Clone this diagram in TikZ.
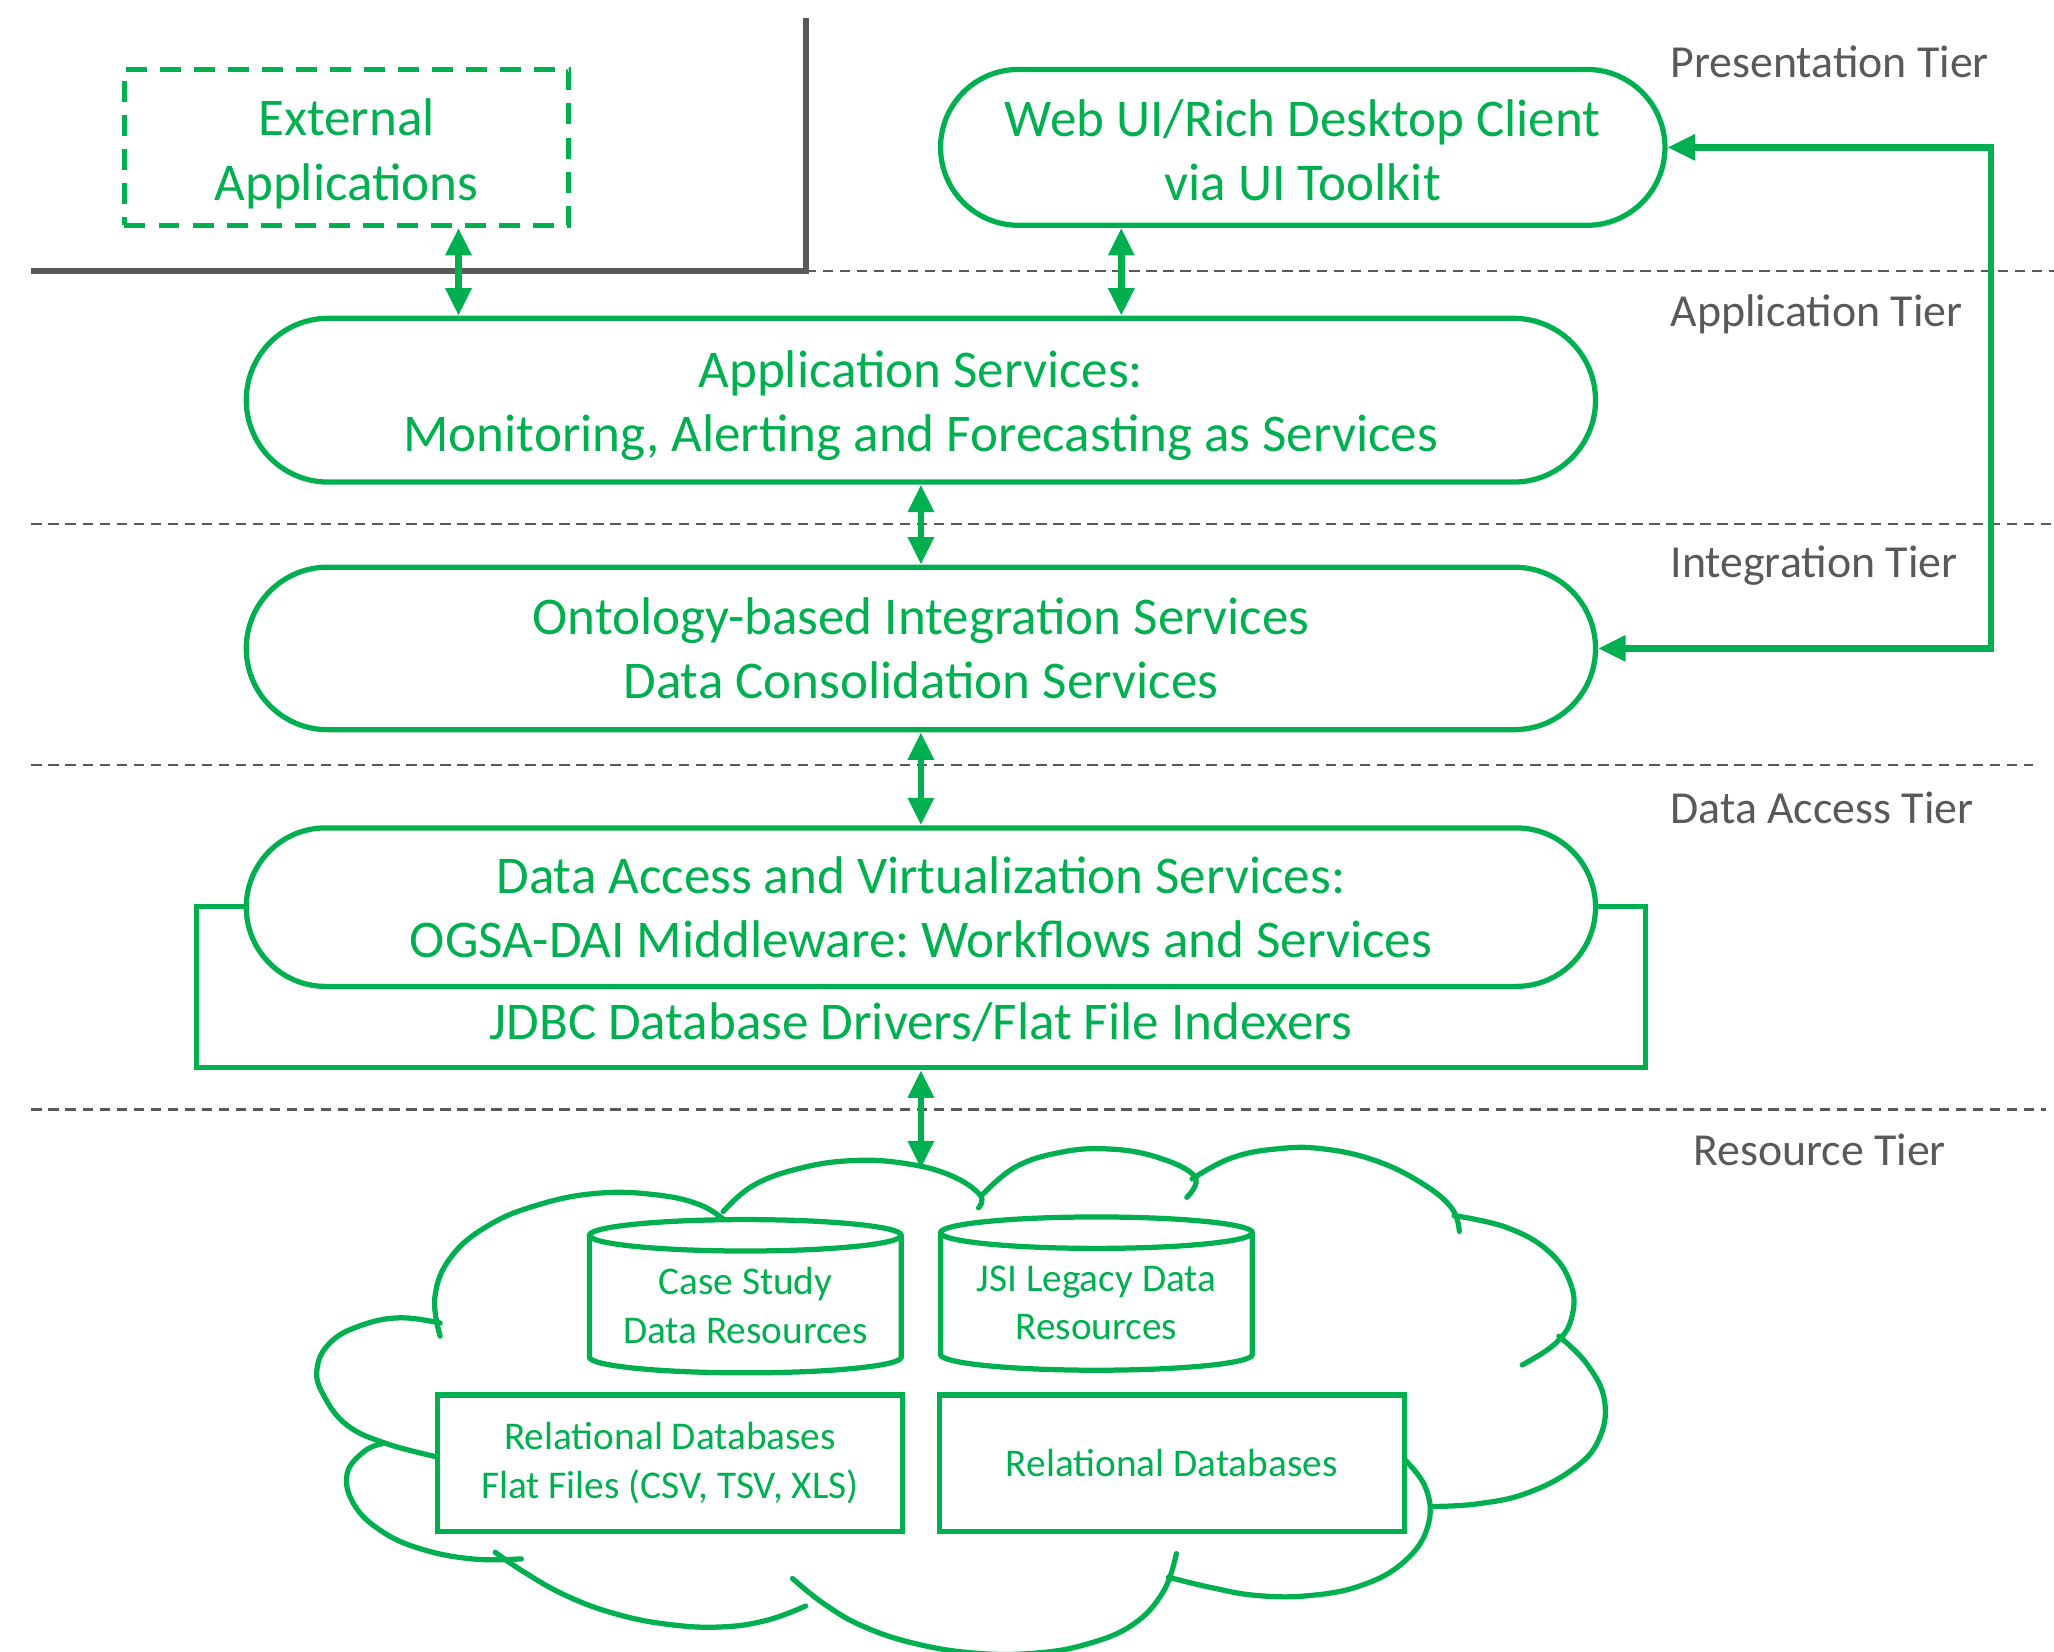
\documentclass[tikz,border=0pt]{standalone}
\usepackage{fontspec}
\setmainfont{Carlito}
\usetikzlibrary{arrows.meta,shapes.misc}
\definecolor{og}{HTML}{00B050}
\definecolor{dg}{HTML}{595959}
\frenchspacing
\newcommand\lowerby[1]{\rule{0pt}{#1}}
\begin{document}
\begin{tikzpicture}[x=1pt,y=-1pt,
  mainfont/.style={font=\fontsize{40.5}{49}\selectfont},
  smallfont/.style={font=\fontsize{30}{37}\selectfont},
  tierlbl/.style={font=\fontsize{35}{42}\selectfont, text=dg, inner sep=0pt},
  stad/.style={rounded rectangle, draw=og, line width=4pt, fill=white, text=og, align=center, inner sep=0pt, mainfont},
  dashbox/.style={rectangle, draw=og, line width=4pt, dash pattern=on 16pt off 10pt, text=og, align=center, inner sep=0pt, mainfont},
  plainbox/.style={rectangle, draw=og, line width=4pt, fill=white, inner sep=0pt},
  smallbox/.style={rectangle, draw=og, line width=4pt, fill=white, text=og, align=center, inner sep=0pt, smallfont},
  cylbox/.style={rectangle, inner sep=0pt, outer sep=0pt, minimum width=238pt, minimum height=117pt},
  greentext/.style={text=og, align=center, inner sep=0pt},
  sepline/.style={draw=dg, line width=2pt, dash pattern=on 8pt off 5pt},
  cornerline/.style={draw=dg, line width=4.5pt},
  cloudline/.style={draw=og, line width=4pt, line cap=round},
  cylline/.style={draw=og, line width=4pt},
  dblarr/.style={draw=og, line width=5pt, {Triangle[length=21pt,width=19pt]}-{Triangle[length=21pt,width=19pt]}}
]
\useasboundingbox (0,0) rectangle (1568,1261);

% tier separators
\draw[cornerline] (24,207) -- (615,207) -- (615,14);
\draw[sepline] (615,207) -- (1568,207);
\draw[sepline] (24,400) -- (1568,400);
\draw[sepline] (24,584) -- (1552,584);
\draw[sepline] (24,847) -- (1562,847);

% tier labels
\node[tierlbl, anchor=west] (tp) at (1275,47) {Presentation Tier};
\node[tierlbl, anchor=west] (ta) at (1275,240) {Application Tier};
\node[tierlbl, anchor=west] (ti) at (1275,432) {Integration Tier};
\node[tierlbl, anchor=west] (td) at (1275,617) {Data Access Tier};
\node[tierlbl] (tr) at (1389,878) {Resource Tier};

% main boxes
\node[dashbox, minimum width=339pt, minimum height=119pt] (ext) at (264.5,112.5) {\lowerby{38pt}External\\Applications};
\node[stad, minimum width=553pt, minimum height=119pt] (web) at (994.5,112.5) {\lowerby{32pt}Web UI/Rich Desktop Client\\via UI Toolkit};
\node[stad, minimum width=1030pt, minimum height=125pt] (app) at (703,305.5) {\lowerby{37pt}Application Services:\\Monitoring, Alerting and Forecasting as Services};
\node[stad, minimum width=1030pt, minimum height=124pt] (ont) at (703,495) {Ontology-based Integration Services\\Data Consolidation Services};
\node[plainbox, minimum width=1106pt, minimum height=123pt] (jdbc) at (703,753.5) {};
\node[greentext, mainfont] (jdbct) at (703,780) {JDBC Database Drivers/Flat File Indexers};
\node[stad, minimum width=1030pt, minimum height=121pt] (das) at (703,692.5) {Data Access and Virtualization Services:\\OGSA-DAI Middleware: Workflows and Services};

% cloud
\draw[cloudline] plot[smooth, tension=0.7] coordinates {(336,1020) (332,990) (344,960) (372,936) (410,920) (455,911) (500,912) (535,920) (556,934)};
\draw[cloudline] plot[smooth, tension=0.7] coordinates {(552,925) (575,905) (610,892) (650,886) (690,888) (725,897) (748,912) (747,922)};
\draw[cloudline] plot[smooth, tension=0.7] coordinates {(750,912) (775,891) (808,880) (844,877) (882,883) (912,898) (906,914)};
\draw[cloudline] plot[smooth, tension=0.7] coordinates {(910,900) (940,884) (975,877) (1010,877) (1050,886) (1085,903) (1108,922) (1114,940)};
\draw[cloudline] plot[smooth, tension=0.7] coordinates {(1110,928) (1150,937) (1182,955) (1199,980) (1200,1005) (1188,1025) (1162,1042)};
\draw[cloudline] plot[smooth, tension=0.7] coordinates {(1190,1020) (1212,1042) (1225,1070) (1220,1100) (1200,1122) (1165,1140) (1128,1148) (1094,1150)};
\draw[cloudline] plot[smooth, tension=0.7] coordinates {(1068,1110) (1088,1135) (1090,1165) (1072,1192) (1040,1210) (1000,1218) (960,1218) (925,1212) (892,1204)};
\draw[cloudline] plot[smooth, tension=0.7] coordinates {(898,1186) (888,1215) (865,1240) (830,1255) (790,1262) (745,1262) (700,1255) (660,1242) (630,1225) (605,1205)};
\draw[cloudline] plot[smooth, tension=0.7] coordinates {(615,1226) (585,1237) (550,1242) (510,1240) (470,1232) (432,1218) (400,1200) (378,1185)};
\draw[cloudline] plot[smooth, tension=0.7] coordinates {(398,1190) (360,1190) (320,1182) (290,1168) (270,1148) (265,1125) (278,1108) (292,1102)};
\draw[cloudline] plot[smooth, tension=0.7] coordinates {(333,1112) (295,1102) (265,1088) (247,1065) (242,1045) (252,1025) (275,1012) (305,1006) (336,1010)};
\coordinate (ctop) at (703,892);

% cylinders
\node[cylbox] (cs) at (569,989.5) {};
\fill[white] ([yshift=-12pt]cs.north west) -- ([yshift=12pt]cs.south west)
  arc[start angle=180, end angle=0, x radius=119, y radius=12]
  -- ([yshift=-12pt]cs.north east) -- cycle;
\draw[cylline] ([yshift=-12pt]cs.north west) -- ([yshift=12pt]cs.south west)
  arc[start angle=180, end angle=0, x radius=119, y radius=12]
  -- ([yshift=-12pt]cs.north east);
\draw[cylline, fill=white] (cs.north) ++(0,12) ellipse[x radius=119, y radius=12];
\node[greentext, smallfont] (cst) at (569,996.5) {Case Study\\Data Resources};

\node[cylbox] (js) at (837,987.5) {};
\fill[white] ([yshift=-12pt]js.north west) -- ([yshift=12pt]js.south west)
  arc[start angle=180, end angle=0, x radius=119, y radius=12]
  -- ([yshift=-12pt]js.north east) -- cycle;
\draw[cylline] ([yshift=-12pt]js.north west) -- ([yshift=12pt]js.south west)
  arc[start angle=180, end angle=0, x radius=119, y radius=12]
  -- ([yshift=-12pt]js.north east);
\draw[cylline, fill=white] (js.north) ++(0,12) ellipse[x radius=119, y radius=12];
\node[greentext, smallfont] (jst) at (837,994.5) {JSI Legacy Data\\Resources};

% rectangles in cloud
\node[smallbox, minimum width=355pt, minimum height=104pt] (rf) at (511.5,1117) {Relational Databases\\Flat Files (CSV, TSV, XLS)};
\node[smallbox, minimum width=355pt, minimum height=104pt] (rd) at (894.5,1117) {Relational Databases};

% connectors
\coordinate (xa) at (350,0);
\coordinate (xb) at (856,0);
\coordinate (fb) at (1520,0);
\draw[dblarr] (xa |- ext.south) -- (xa |- app.north);
\draw[dblarr] (xb |- web.south) -- (xb |- app.north);
\draw[dblarr] (app.south) -- (ont.north);
\draw[dblarr] (ont.south) -- (das.north);
\draw[dblarr] (jdbc.south) -- (ctop);
\draw[dblarr] (web.east) -- (web.east -| fb) -- (fb |- ont.east) -- (ont.east);
\end{tikzpicture}
\end{document}
